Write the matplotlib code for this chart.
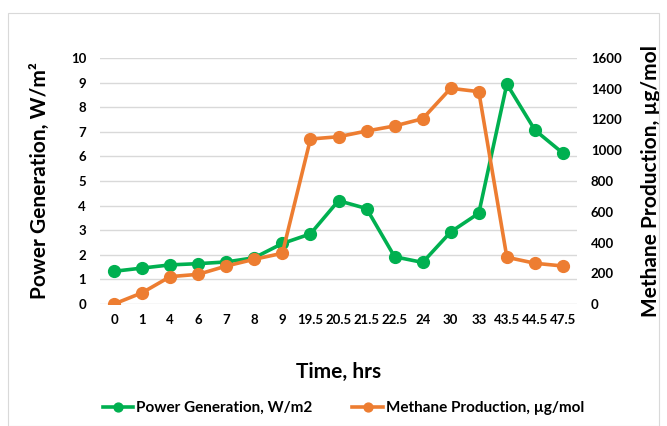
import matplotlib
matplotlib.use("Agg")
import matplotlib.pyplot as plt
from matplotlib.patches import Rectangle

plt.rcParams['font.family'] = ['Lato', 'DejaVu Sans']

time_labels = ["0", "1", "4", "6", "7", "8", "9", "19.5", "20.5", "21.5",
               "22.5", "24", "30", "33", "43.5", "44.5", "47.5"]
power = [1.33, 1.46, 1.59, 1.64, 1.71, 1.88, 2.46, 2.85, 4.2, 3.88,
         1.92, 1.69, 2.93, 3.69, 8.94, 7.07, 6.13]
methane = [0, 73, 178, 193, 247, 291, 330, 1073, 1088, 1125,
           1158, 1205, 1403, 1381, 304, 265, 247]

green = "#00B050"
orange = "#ED7D31"

fig = plt.figure(figsize=(6.67, 4.26), dpi=100)
fig.patches.append(Rectangle((8 / 667, 0), 1 - 16 / 667, 1 - 13 / 426,
                             transform=fig.transFigure, fill=False,
                             edgecolor="#D9D9D9", linewidth=0.8))

ax = fig.add_axes([100 / 667, 1 - 304 / 426, 477 / 667, 246 / 426])
ax2 = ax.twinx()

x = list(range(len(time_labels)))
l1, = ax.plot(x, power, color=green, lw=2.6, marker="o", ms=8.5,
              label="Power Generation, W/m2", zorder=3)
l2, = ax2.plot(x, methane, color=orange, lw=2.6, marker="o", ms=8.5,
               label="Methane Production, \u00b5g/mol", zorder=3)

ax.set_ylim(0, 10)
ax.set_yticks(range(0, 11))
ax2.set_ylim(0, 1600)
ax2.set_yticks(range(0, 1601, 200))
ax.set_xlim(-0.5, len(time_labels) - 0.5)
ax.set_xticks(x)
ax.set_xticklabels(time_labels)

ax.grid(axis="y", color="#D9D9D9", lw=1)
ax.set_axisbelow(True)
for a in (ax, ax2):
    for s in a.spines.values():
        s.set_visible(False)
    a.tick_params(length=0, labelsize=9.5, pad=7)
    for t in a.get_xticklabels() + a.get_yticklabels():
        t.set_fontweight("bold")
ax.tick_params(axis="y", pad=10)
ax2.tick_params(axis="y", pad=10)

ax.set_xlabel("Time, hrs", fontsize=15, fontweight="bold", labelpad=26)
ax.set_ylabel("Power Generation, W/m\u00b2", fontsize=15, fontweight="bold", labelpad=15)
ax2.set_ylabel("Methane Production, \u00b5g/mol", fontsize=15, fontweight="bold", labelpad=14)

fig.legend(handles=[l1, l2], loc="center", bbox_to_anchor=(0.515, 1 - 408 / 426),
           ncol=2, frameon=False, handlelength=2.0, markerscale=0.75,
           handletextpad=0.2, columnspacing=2.6,
           prop={"weight": "bold", "size": 11})

fig.savefig("out.png", dpi=100)
